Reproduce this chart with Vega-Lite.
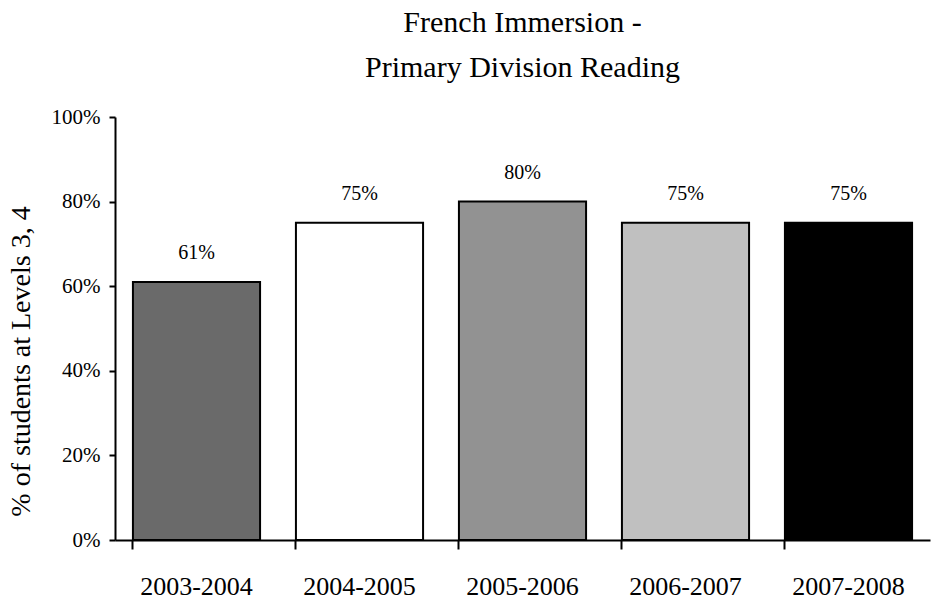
{
  "$schema": "https://vega.github.io/schema/vega-lite/v6.json",
  "autosize": "none",
  "width": 815,
  "height": 423,
  "padding": {"left": 115, "top": 117, "right": 3, "bottom": 60},
  "background": "white",
  "config": {"view": {"stroke": null}, "font": "Liberation Serif"},
  "title": {
    "text": ["French Immersion  -", "Primary Division Reading"],
    "font": "Liberation Serif",
    "fontSize": 30,
    "fontWeight": "normal",
    "color": "black",
    "lineHeight": 45,
    "anchor": "middle",
    "offset": 23
  },
  "data": {
    "values": [
      {"year": "2003-2004", "value": 0.61, "label": "61%"},
      {"year": "2004-2005", "value": 0.75, "label": "75%"},
      {"year": "2005-2006", "value": 0.80, "label": "80%"},
      {"year": "2006-2007", "value": 0.75, "label": "75%"},
      {"year": "2007-2008", "value": 0.75, "label": "75%"}
    ]
  },
  "encoding": {
    "x": {
      "field": "year",
      "type": "nominal",
      "sort": null,
      "scale": {"paddingInner": 0.22, "paddingOuter": 0.11},
      "axis": {
        "title": null,
        "labelAngle": 0,
        "labelFont": "Liberation Serif",
        "labelFontSize": 26,
        "labelColor": "black",
        "labelPadding": 24,
        "domainColor": "black",
        "domainWidth": 2,
        "tickColor": "black",
        "tickWidth": 2,
        "tickSize": 9,
        "bandPosition": 0
      }
    },
    "y": {
      "field": "value",
      "type": "quantitative",
      "scale": {"domain": [0, 1]},
      "axis": {
        "title": "% of students at Levels 3, 4",
        "titleFont": "Liberation Serif",
        "titleFontSize": 28,
        "titleFontWeight": "normal",
        "titleColor": "black",
        "titleX": -80,
        "titleY": 244,
        "format": ".0%",
        "values": [0, 0.2, 0.4, 0.6, 0.8, 1],
        "grid": false,
        "labelFont": "Liberation Serif",
        "labelFontSize": 21,
        "labelColor": "black",
        "labelPadding": 9,
        "domainColor": "black",
        "domainWidth": 2,
        "tickColor": "black",
        "tickWidth": 2,
        "tickSize": 6
      }
    }
  },
  "layer": [
    {
      "mark": {"type": "bar", "stroke": "black", "strokeWidth": 2},
      "encoding": {
        "color": {
          "field": "year",
          "type": "nominal",
          "legend": null,
          "scale": {
            "domain": ["2003-2004", "2004-2005", "2005-2006", "2006-2007", "2007-2008"],
            "range": ["#6a6a6a", "#ffffff", "#929292", "#c0c0c0", "#000000"]
          }
        }
      }
    },
    {
      "mark": {"type": "text", "baseline": "bottom", "dy": -19, "fontSize": 20, "font": "Liberation Serif", "color": "black"},
      "encoding": {"text": {"field": "label"}}
    }
  ]
}
